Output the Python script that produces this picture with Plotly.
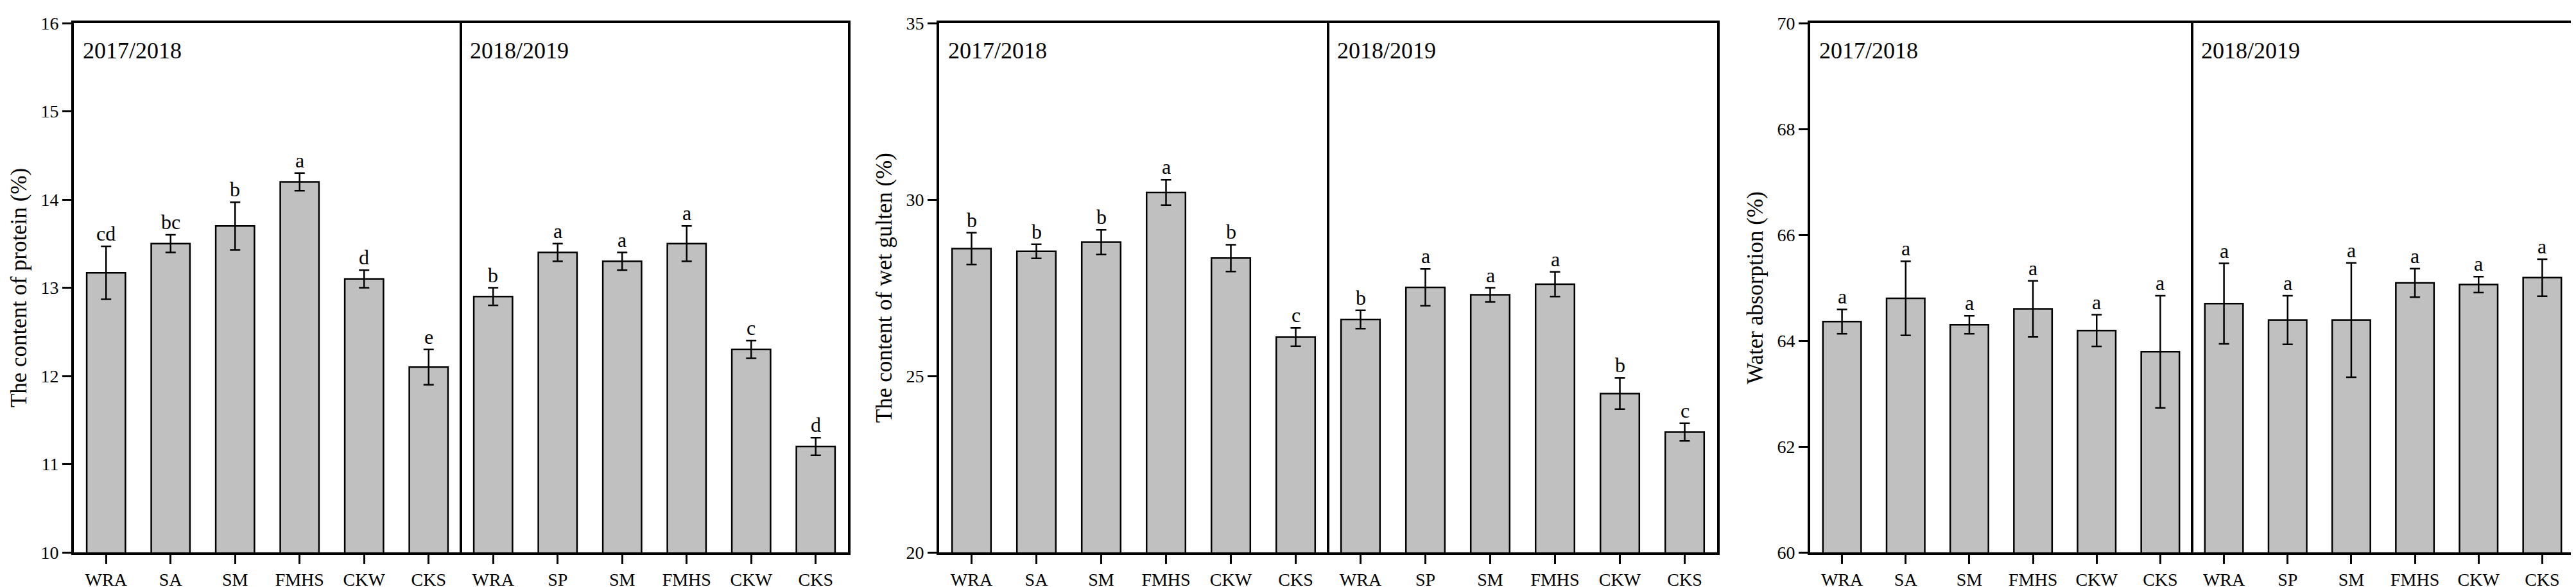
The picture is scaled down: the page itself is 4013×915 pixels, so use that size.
import plotly.graph_objects as go

# ---------------- data ----------------
categories = ["WRA", "SA", "SM", "FMHS", "CKW", "CKS",
              "WRA", "SP", "SM", "FMHS", "CKW", "CKS"]
seasons = ["2017/2018", "2018/2019"]

protein = [13.17, 13.50, 13.70, 14.20, 13.10, 12.10,
           12.90, 13.40, 13.30, 13.50, 12.30, 11.20]
protein_err = [0.30, 0.10, 0.27, 0.10, 0.10, 0.20,
               0.10, 0.10, 0.10, 0.20, 0.10, 0.10]
protein_sig = ["cd", "bc", "b", "a", "d", "e",
               "b", "a", "a", "a", "c", "d"]

gluten = [28.61, 28.53, 28.79, 30.20, 28.34, 26.10,
          26.60, 27.51, 27.30, 27.60, 24.50, 23.41]
gluten_err = [0.45, 0.20, 0.35, 0.36, 0.38, 0.26,
              0.26, 0.52, 0.20, 0.35, 0.44, 0.25]
gluten_sig = ["b", "b", "b", "a", "b", "c",
              "b", "a", "a", "a", "b", "c"]

water = [64.36, 64.80, 64.30, 64.60, 64.19, 63.79,
         64.70, 64.39, 64.39, 65.09, 65.06, 65.19]
water_err = [0.23, 0.70, 0.17, 0.53, 0.30, 1.06,
             0.76, 0.46, 1.08, 0.27, 0.15, 0.35]
water_sig = ["a"] * 12

panels = [
    dict(values=protein, err=protein_err, sig=protein_sig,
         title="The content of protein (%)", yrange=[10, 16], dtick=1),
    dict(values=gluten, err=gluten_err, sig=gluten_sig,
         title="The content of wet gulten (%)", yrange=[20, 35], dtick=5),
    dict(values=water, err=water_err, sig=water_sig,
         title="Water absorption (%)", yrange=[60, 70], dtick=2),
]

# ---------------- layout ----------------
W, H = 4013, 915
FONT = "Liberation Serif, Times New Roman, serif"
x_px = [(107, 1313), (1455, 2667), (2812, 4002)]
domains = [[a / W, b / W] for a, b in x_px]

fig = go.Figure()
positions = list(range(len(categories)))
split = len(categories) / 2 - 0.5

annotations = []
shapes = []
for i, p in enumerate(panels):
    n = "" if i == 0 else str(i + 1)
    xa, ya = "x" + n, "y" + n
    fig.add_trace(go.Bar(
        x=positions, y=p["values"], xaxis=xa, yaxis=ya,
        width=0.6, marker=dict(color="#C0C0C0", line=dict(color="black", width=2.5)),
        error_y=dict(type="data", array=p["err"], visible=True,
                     color="black", thickness=2.5, width=8),
        showlegend=False, hoverinfo="skip",
    ))
    axis_common = dict(showline=True, linecolor="black", linewidth=4, mirror=True,
                       ticks="outside", tickwidth=3, ticklen=14, tickcolor="black",
                       showgrid=False, zeroline=False,
                       tickfont=dict(family=FONT, size=28, color="black"))
    fig.layout["xaxis" + n] = dict(
        domain=domains[i], anchor=ya, range=[-0.5, len(categories) - 0.5],
        tickmode="array", tickvals=positions, ticktext=categories,
        **axis_common)
    fig.layout["yaxis" + n] = dict(
        domain=[0, 1], anchor=xa, range=p["yrange"], dtick=p["dtick"],
        tick0=p["yrange"][0],
        title=dict(text=p["title"], font=dict(family=FONT, size=35, color="black"),
                   standoff=12),
        **axis_common)
    # divider between seasons
    shapes.append(dict(type="line", xref=xa, yref=ya + " domain",
                       x0=split, x1=split, y0=0, y1=1,
                       line=dict(color="black", width=4)))
    # season labels
    for s, season in enumerate(seasons):
        annotations.append(dict(
            text=season, xref=xa, yref=ya + " domain",
            x=-0.5 + s * len(categories) / 2, y=0.948,
            xanchor="left", yanchor="middle", xshift=12, showarrow=False,
            font=dict(family=FONT, size=36, color="black")))
    # significance letters
    for k, (v, e, lab) in enumerate(zip(p["values"], p["err"], p["sig"])):
        annotations.append(dict(
            text=lab, xref=xa, yref=ya, x=positions[k], y=v + e,
            xanchor="center", yanchor="bottom", yshift=0, showarrow=False,
            font=dict(family=FONT, size=32, color="black")))

fig.update_layout(
    width=W, height=H,
    margin=dict(l=0, r=0, t=28, b=H - 853, autoexpand=False),
    paper_bgcolor="white", plot_bgcolor="white",
    bargap=0.4, annotations=annotations, shapes=shapes,
    font=dict(family=FONT, color="black"),
)

fig.write_html("out.html")
